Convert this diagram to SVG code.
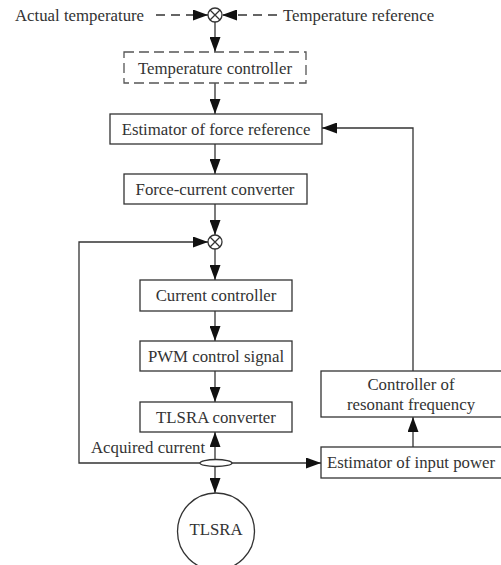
<svg xmlns="http://www.w3.org/2000/svg" width="501" height="565" viewBox="0 0 501 565">
<defs>
<style>
text{font-family:"Liberation Serif","Times New Roman",serif;font-size:16.8px;fill:#333;}
.c{text-anchor:middle;}
.box{fill:#fff;stroke:#333;stroke-width:1.3;}
.dbox{fill:#fff;stroke:#555;stroke-width:1.3;stroke-dasharray:10 5;}
.ln{fill:none;stroke:#333;stroke-width:1.3;}
.dl{fill:none;stroke:#333;stroke-width:1.3;stroke-dasharray:9 6;}
</style>
<marker id="ah" markerUnits="userSpaceOnUse" markerWidth="15" markerHeight="11" refX="15" refY="5.5" orient="auto">
<path d="M0,0 L15,5.5 L0,11 z" fill="#111"/>
</marker>
</defs>
<rect width="501" height="565" fill="#fff"/>
<g id="connectors">
<line class="dl" x1="156" y1="15" x2="208" y2="15" marker-end="url(#ah)"/>
<line class="dl" x1="277" y1="15" x2="222" y2="15" marker-end="url(#ah)"/>
<line class="ln" x1="215" y1="22" x2="215" y2="52" marker-end="url(#ah)"/>
<line class="ln" x1="215" y1="83" x2="215" y2="114" marker-end="url(#ah)"/>
<line class="ln" x1="215" y1="144" x2="215" y2="174" marker-end="url(#ah)"/>
<line class="ln" x1="215" y1="204" x2="215" y2="235" marker-end="url(#ah)"/>
<line class="ln" x1="215" y1="249" x2="215" y2="280" marker-end="url(#ah)"/>
<line class="ln" x1="215" y1="311" x2="215" y2="341" marker-end="url(#ah)"/>
<line class="ln" x1="215" y1="371" x2="215" y2="402" marker-end="url(#ah)"/>
<line class="ln" x1="215" y1="459.5" x2="215" y2="432" marker-end="url(#ah)"/>
<line class="ln" x1="215" y1="466.5" x2="215" y2="493" marker-end="url(#ah)"/>
<polyline class="ln" points="200,463 79,463 79,242 208,242" marker-end="url(#ah)"/>
<line class="ln" x1="231" y1="463" x2="321" y2="463" marker-end="url(#ah)"/>
<line class="ln" x1="413" y1="447" x2="413" y2="417" marker-end="url(#ah)"/>
<polyline class="ln" points="413,371 413,128 322,128" marker-end="url(#ah)"/>
</g>
<g id="sum1"><circle cx="215" cy="15" r="7" class="ln" fill="#fff"/><path class="ln" d="M210,10 L220,20 M220,10 L210,20"/></g>
<g id="label-actual"><text x="15" y="21">Actual temperature</text></g>
<g id="label-ref"><text x="283" y="21">Temperature reference</text></g>
<g id="temp-controller"><rect class="dbox" x="124" y="52" width="182" height="31"/><text class="c" x="215" y="73.5">Temperature controller</text></g>
<g id="force-ref"><rect class="box" x="110" y="114" width="212" height="30"/><text class="c" x="216" y="134.5">Estimator of force reference</text></g>
<g id="force-current"><rect class="box" x="124" y="174" width="183" height="30"/><text class="c" x="215" y="194.5">Force-current converter</text></g>
<g id="sum2"><circle cx="215" cy="242" r="7" class="ln" fill="#fff"/><path class="ln" d="M210,237 L220,247 M220,237 L210,247"/></g>
<g id="current-controller"><rect class="box" x="140" y="280" width="152" height="31"/><text class="c" x="216" y="301">Current controller</text></g>
<g id="pwm"><rect class="box" x="140" y="341" width="152" height="30"/><text class="c" x="216" y="361.5">PWM control signal</text></g>
<g id="tlsra-converter"><rect class="box" x="140" y="402" width="152" height="30"/><text class="c" x="216" y="422.5">TLSRA converter</text></g>
<g id="resonant"><rect class="box" x="321" y="371" width="190" height="46"/><text class="c" x="411" y="389.5">Controller of</text><text class="c" x="411" y="410">resonant frequency</text></g>
<g id="input-power"><rect class="box" x="321" y="447" width="190" height="31"/><text class="c" x="411" y="468">Estimator of input power</text></g>
<g id="sensor"><ellipse cx="216" cy="463" rx="16" ry="3.5" class="ln" fill="#fff"/><text x="91" y="453">Acquired current</text></g>
<g id="tlsra"><circle cx="216" cy="531.5" r="38.5" class="ln" fill="#fff"/><text class="c" x="216" y="535">TLSRA</text></g>
</svg>
